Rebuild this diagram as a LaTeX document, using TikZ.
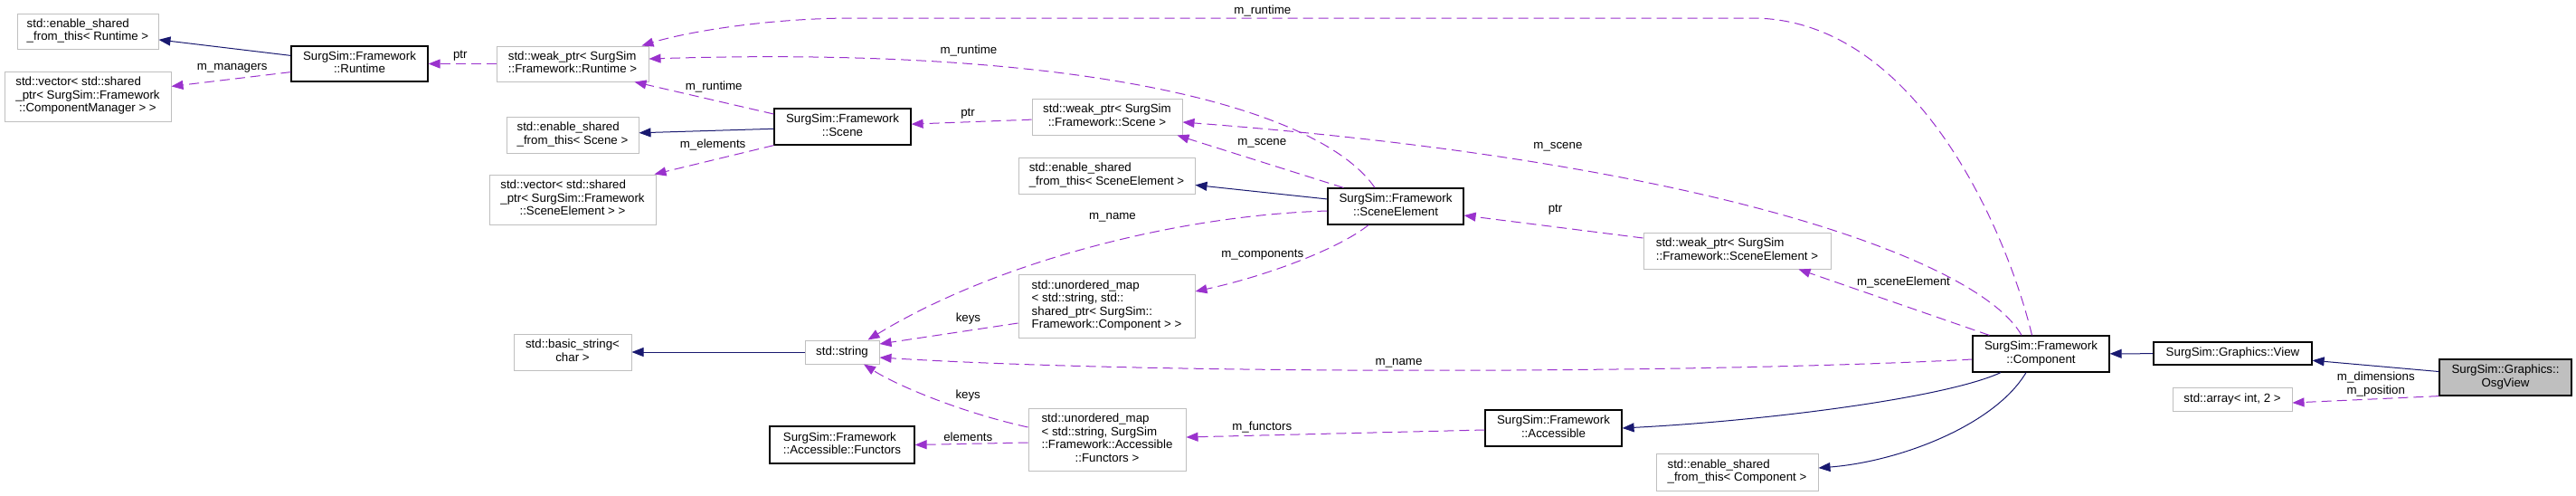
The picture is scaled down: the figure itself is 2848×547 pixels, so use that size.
\documentclass[tikz,border=0pt]{standalone}
\usepackage{fontspec}
\setmainfont{Liberation Sans}
\usepackage{xcolor}
\usetikzlibrary{calc,arrows.meta}
\definecolor{inhblue}{HTML}{191970}
\definecolor{usepurple}{HTML}{9A32CD}
\definecolor{extgray}{HTML}{BFBFBF}
\newcommand{\lbfont}{\fontsize{13.3}{14.5}\selectfont}
\newcommand{\cname}[2]{\begin{tabular}{@{}l@{}}#1\\\multicolumn{1}{@{}c@{}}{#2}\end{tabular}}

\begin{document}
\begin{tikzpicture}[x=1pt,y=-1pt,>={Triangle[length=13pt,width=10pt]},font=\lbfont,
    class node/.style={rectangle,draw=black,line width=1.2pt,fill=white,inner sep=0pt},
    ext node/.style={rectangle,draw=extgray,line width=1pt,fill=white,inner sep=0pt},
    wh/.style 2 args={minimum width=#1,minimum height=#2},
    inherit/.style={->,draw=inhblue,line width=1pt},
    uses/.style={->,draw=usepurple,line width=1pt,dash pattern=on 11pt off 6pt},
    elbl/.style={inner sep=0pt,align=center,text=black}]

    \useasboundingbox (0,0) rectangle (2848,547);

    \node[ext node,wh={156}{39}] (esr) at (97,34.5) {\cname{std::enable\_shared}{\_from\_this< Runtime >}};
    \node[ext node,wh={184}{55}] (vcm) at (97,106.5) {\cname{std::vector< std::shared\\\_ptr< SurgSim::Framework}{::ComponentManager > >}};
    \node[class node,wh={151}{39}] (runtime) at (397.5,70.5) {\cname{SurgSim::Framework}{::Runtime}};
    \node[ext node,wh={168}{39}] (wpr) at (633,70.5) {\cname{std::weak\_ptr< SurgSim}{::Framework::Runtime >}};
    \node[ext node,wh={146}{40}] (ess) at (633,149) {\cname{std::enable\_shared}{\_from\_this< Scene >}};
    \node[ext node,wh={184}{55}] (vse) at (633,220.5) {\cname{std::vector< std::shared\\\_ptr< SurgSim::Framework}{::SceneElement > >}};
    \node[class node,wh={151}{40}] (scene) at (931.5,140) {\cname{SurgSim::Framework}{::Scene}};
    \node[ext node,wh={130}{40}] (bstr) at (633,389) {\cname{std::basic\_string<}{char >}};
    \node[ext node,wh={82}{26}] (str) at (931,389) {std::string};
    \node[class node,wh={160}{41}] (func) at (931,491.5) {\cname{SurgSim::Framework}{::Accessible::Functors}};
    \node[ext node,wh={166}{40}] (wps) at (1224,129) {\cname{std::weak\_ptr< SurgSim}{::Framework::Scene >}};
    \node[ext node,wh={195}{40}] (ese) at (1223.5,194) {\cname{std::enable\_shared}{\_from\_this< SceneElement >}};
    \node[ext node,wh={195}{70}] (umc) at (1223.5,338) {\cname{std::unordered\_map\\< std::string, std::\\shared\_ptr< SurgSim::}{Framework::Component > >}};
    \node[ext node,wh={174}{69}] (umf) at (1224,485.5) {\cname{std::unordered\_map\\< std::string, SurgSim\\::Framework::Accessible}{::Functors >}};
    \node[class node,wh={150}{40}] (se) at (1543,228) {\cname{SurgSim::Framework}{::SceneElement}};
    \node[ext node,wh={207}{40}] (wpse) at (1920.5,277) {\cname{std::weak\_ptr< SurgSim}{::Framework::SceneElement >}};
    \node[class node,wh={151}{40}] (acc) at (1717.5,473) {\cname{SurgSim::Framework}{::Accessible}};
    \node[ext node,wh={179}{41}] (esc) at (1920.5,521.5) {\cname{std::enable\_shared}{\_from\_this< Component >}};
    \node[class node,wh={151}{40}] (comp) at (2256.5,391) {\cname{SurgSim::Framework}{::Component}};
    \node[class node,wh={175}{25}] (view) at (2468.5,390.5) {SurgSim::Graphics::View};
    \node[ext node,wh={132}{26}] (arr) at (2468,441) {std::array< int, 2 >};
    \node[class node,fill=extgray,wh={146}{40}] (osg) at (2770,417) {\cname{SurgSim::Graphics::}{OsgView}};

    % inheritance
    \path
    (runtime) edge [inherit] (esr)
    (scene) edge [inherit] (ess)
    (se) edge [inherit] (ese)
    (str) edge [inherit] (bstr)
    (view) edge [inherit] (comp)
    (osg) edge [inherit] (view);
    \draw[inherit] ($(comp.south)+(-44.5,0)$) .. controls (2150,440) and (1950,465) .. (acc.east);
    \draw[inherit] ($(comp.south)+(-16.5,0)$) .. controls (2205,470) and (2100,510) .. ($(esc.east)+(0,-4.5)$);

    % members
    \path
    (runtime) edge [uses] node[elbl,pos=0.49,yshift=12pt] {m\_managers} (vcm)
    (wpr) edge [uses] node[elbl,pos=0.53,yshift=8.5pt] {ptr} (runtime)
    ($(scene.west)+(0,-14)$) edge [uses] node[elbl,pos=0.43,yshift=14.7pt] {m\_runtime} ($(wpr.south east)+(-16,0)$)
    (scene.south west) edge [uses] node[elbl,pos=0.51,yshift=16.8pt] {m\_elements} ($(vse.north east)+(-2,0)$)
    (wps) edge [uses] node[elbl,pos=0.53,yshift=9.6pt] {ptr} (scene)
    ($(se.north west)+(18,0)$) edge [uses] node[elbl,pos=0.49,yshift=21pt] {m\_scene} ($(wps.south east)+(-6,0)$)
    ($(umc.west)+(0,19)$) edge [uses] node[elbl,pos=0.36,yshift=13.4pt] {keys} ($(str.east)+(0,-9)$)
    ($(wpse.west)+(0,-14)$) edge [uses] node[elbl,pos=0.49,yshift=18.7pt] {ptr} ($(se.east)+(0,10)$)
    ($(comp.north west)+(19,0)$) edge [uses] node[elbl,pos=0.45,yshift=26pt] {m\_sceneElement} ($(wpse.south east)+(-36,0)$)
    ($(umf.west)+(0,3.5)$) edge [uses] node[elbl,pos=0.53,yshift=7.6pt] {elements} (func.east)
    ($(acc.west)+(0,2)$) edge [uses] node[elbl,pos=0.746,yshift=9pt] {m\_functors} ($(umf.east)+(0,-2.5)$)
    (osg.south west) edge [uses] node[elbl,pos=0.43,yshift=16.4pt] {m\_dimensions\\m\_position} ($(arr.east)+(0,4)$);

    \draw[uses] ($(se.north)+(-23,0)$) .. controls (1460,120) and (1200,50) .. ($(wpr.east)+(0,-5.5)$)
      node[elbl,pos=0.72,yshift=15pt] {m\_runtime};
    \draw[uses] ($(se.west)+(0,5)$) .. controls (1300,238) and (1100,290) .. ($(str.north east)+(-13,0)$)
      node[elbl,pos=0.45,yshift=27pt] {m\_name};
    \draw[uses] ($(se.south)+(-30,0)$) .. controls (1480,275) and (1400,305) .. ($(umc.east)+(0,-16)$)
      node[elbl,pos=0.68,yshift=21pt] {m\_components};
    \draw[uses] ($(umf.west)+(0,-13.5)$) .. controls (1060,455) and (990,425) .. ($(str.south)+(24,0)$)
      node[elbl,pos=0.3,yshift=17pt] {keys};
    \draw[uses] ($(comp.north)+(-10,0)$) .. controls (2220,260) and (2120,20) .. (1937,20)
      -- node[elbl,pos=0.545,yshift=8pt] {m\_runtime} (944,20)
      .. controls (850,20) and (760,35) .. ($(wpr.north east)+(-8,0)$);
    \draw[uses] ($(comp.north)+(-21.5,0)$) .. controls (2190,290) and (1900,180) .. ($(wps.east)+(0,6)$)
      node[elbl,pos=0.73,yshift=22pt] {m\_scene};
    \draw[uses] ($(comp.west)+(0,6)$) .. controls (1900,412) and (1300,415) .. ($(str.east)+(0,6)$)
      node[elbl,pos=0.535,yshift=7.5pt] {m\_name};
  \end{tikzpicture}
\end{document}
